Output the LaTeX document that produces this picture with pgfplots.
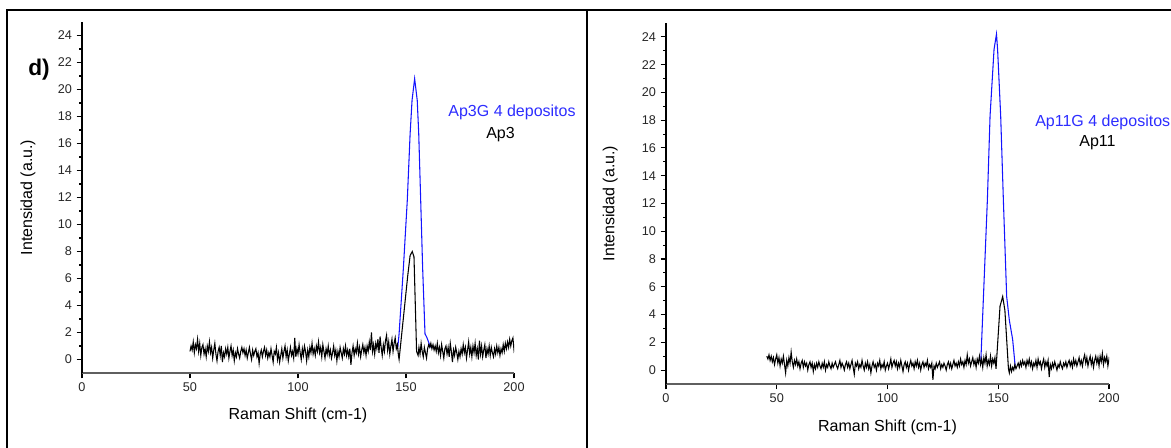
\documentclass[border=0pt]{standalone}
\usepackage{pgfplots}
\pgfplotsset{compat=1.18}
\usepackage{fontspec}
\setmainfont{Liberation Sans}
\definecolor{lblue}{RGB}{20,20,255}
\definecolor{tblue}{RGB}{45,45,255}
\definecolor{axgray}{RGB}{95,95,95}
\pgfplotsset{
 ramanax/.style={
  scale only axis, axis lines*=left,
  xmin=0, xmax=200, ymin=-1, ymax=25,
  xtick={0,50,100,150,200}, ytick={0,2,...,24}, minor y tick num=1,
  tick align=outside, major tick length=4pt, minor tick length=2.2pt,
  x axis line style={draw=axgray, line width=1.4pt},
  y axis line style={draw=black, line width=1.1pt},
  every tick/.style={draw=black, line width=0.8pt},
  tick label style={font=\fontsize{9.5}{10}\selectfont, text=black!85},
  /pgf/number format/assume math mode=true,
  label style={font=\fontsize{12}{14}\selectfont},
  xlabel={Raman Shift (cm-1)}, ylabel={Intensidad (a.u.)},
 }
}
\begin{document}
\begin{tikzpicture}[x=0.75pt,y=0.75pt]
\path[use as bounding box] (0,0) rectangle (1171,448);
\clip (0,0) rectangle (1171,448);
% ---------------- left panel ----------------
\begin{axis}[ramanax, at={(61.5pt,56.25pt)}, anchor=south west,
  width=324pt, height=263.25pt,
  xlabel style={at={(axis description cs:0.5,-0.122)}, anchor=center},
  ylabel style={at={(axis description cs:-0.125,0.5)}, anchor=center}]
\addplot[lblue, line width=0.8pt] coordinates {
(146.2,0.9)(146.8,1.9)(148.8,6.8)(150.6,11.8)(151.9,16.7)(152.8,19.2)(154.0,20.8)(155.2,19.2)(155.9,16.7)(156.8,11.8)(157.7,6.8)(158.8,1.9)(159.6,1.65)(161.4,0.9)
};
\addplot[black, line width=0.8pt] coordinates {
(50.0,0.6)(50.5,1.0)(51.0,0.7)(51.5,1.3)(52.0,0.5)(52.5,1.1)(53.0,0.8)(53.5,1.5)(54.0,0.6)(54.5,1.2)
(55.0,0.3)(55.5,0.9)(56.0,1.1)(56.5,0.4)(57.0,0.8)(57.5,0.2)(58.0,1.0)(58.5,0.6)(59.0,1.3)(59.5,0.5)
(60.0,0.9)(60.5,0.1)(61.0,0.7)(61.5,1.2)(62.0,0.4)(62.5,-0.1)(63.0,0.6)(63.5,0.9)(64.0,0.3)(64.5,1.0)
(65.0,-0.2)(65.5,0.5)(66.0,0.2)(66.5,0.8)(67.0,0.4)(67.5,0.9)(68.0,0.1)(68.5,0.6)(69.0,1.0)(69.5,0.3)
(70.0,0.7)(70.5,-0.1)(71.0,0.5)(71.5,0.2)(72.0,0.8)(72.5,0.4)(73.0,0.1)(73.5,0.6)(74.0,0.9)(74.5,0.5)
(75.0,0.8)(75.5,0.3)(76.0,0.7)(76.5,0.1)(77.0,0.5)(77.5,0.9)(78.0,0.4)(78.5,0.0)(79.0,0.7)(79.5,0.3)
(80.0,0.6)(80.5,0.8)(81.0,0.2)(81.5,0.5)(82.0,-0.3)(82.5,0.4)(83.0,0.7)(83.5,0.2)(84.0,0.6)(84.5,0.9)
(85.0,0.3)(85.5,0.7)(86.0,0.1)(86.5,0.5)(87.0,0.2)(87.5,0.8)(88.0,0.3)(88.5,-0.2)(89.0,0.6)(89.5,0.4)
(90.0,0.9)(90.5,0.0)(91.0,0.5)(91.5,-0.2)(92.0,0.3)(92.5,0.8)(93.0,0.1)(93.5,0.6)(94.0,1.0)(94.5,0.2)
(95.0,0.7)(95.5,-0.1)(96.0,0.4)(96.5,0.9)(97.0,0.3)(97.5,0.6)(98.0,0.1)(98.5,1.6)(99.0,0.2)(99.5,0.8)
(100.0,0.4)(100.5,1.1)(101.0,0.5)(101.5,0.0)(102.0,0.8)(102.5,0.3)(103.0,1.0)(103.5,0.6)(104.0,-0.1)(104.5,0.7)
(105.0,0.2)(105.5,0.9)(106.0,0.5)(106.5,1.2)(107.0,0.4)(107.5,0.8)(108.0,0.3)(108.5,1.0)(109.0,0.6)(109.5,1.3)
(110.0,0.5)(110.5,0.9)(111.0,0.2)(111.5,1.1)(112.0,0.6)(112.5,0.1)(113.0,0.8)(113.5,0.4)(114.0,1.0)(114.5,0.3)
(115.0,0.7)(115.5,0.1)(116.0,0.5)(116.5,1.0)(117.0,0.3)(117.5,0.7)(118.0,-0.1)(118.5,0.6)(119.0,0.2)(119.5,0.9)
(120.0,0.5)(120.5,0.1)(121.0,0.8)(121.5,0.4)(122.0,1.0)(122.5,0.3)(123.0,0.7)(123.5,0.2)(124.0,0.8)(124.5,-0.4)
(125.0,0.5)(125.5,1.0)(126.0,0.3)(126.5,0.8)(127.0,0.5)(127.5,1.2)(128.0,0.4)(128.5,0.9)(129.0,0.2)(129.5,0.7)
(130.0,1.1)(130.5,0.5)(131.0,0.9)(131.5,0.3)(132.0,1.0)(132.5,0.6)(133.0,1.3)(133.5,0.7)(134.0,2.0)(134.5,0.6)
(135.0,1.1)(135.5,0.4)(136.0,1.2)(136.5,0.8)(137.0,1.5)(137.5,0.5)(138.0,1.7)(138.5,0.9)(139.0,0.3)(139.5,1.1)
(140.0,0.6)(140.5,1.4)(141.0,1.8)(141.5,0.7)(142.0,1.3)(142.5,0.4)(143.0,1.0)(143.5,1.5)(144.0,0.6)(144.5,1.2)
(145.0,1.6)(145.5,0.8)(146.0,1.1)(146.5,0.3)
(146.8,0.0)(148.8,3.1)(150.8,6.2)(151.9,7.7)(152.9,8.0)(153.7,7.6)(154.9,0.6)(155.6,0.3)
(156.0,0.9)(156.5,0.4)(157.0,1.2)(157.5,0.6)(158.0,0.2)(158.5,0.9)(159.0,0.5)(159.5,0.1)
(160.0,0.8)(160.5,1.1)(161.0,0.9)(161.5,1.2)(162.0,0.8)(162.5,1.1)(163.0,0.7)(163.5,1.0)(164.0,0.6)(164.5,1.2)
(165.0,0.5)(165.5,0.9)(166.0,0.3)(166.5,1.1)(167.0,0.6)(167.5,0.1)(168.0,0.8)(168.5,1.0)(169.0,0.4)(169.5,0.9)
(170.0,0.2)(170.5,1.2)(171.0,0.6)(171.5,-0.2)(172.0,0.7)(172.5,0.3)(173.0,0.9)(173.5,0.5)(174.0,0.0)(174.5,0.6)
(175.0,0.2)(175.5,0.8)(176.0,0.4)(176.5,1.1)(177.0,0.5)(177.5,0.9)(178.0,0.1)(178.5,0.7)(179.0,1.3)(179.5,0.4)
(180.0,0.9)(180.5,0.2)(181.0,1.0)(181.5,0.5)(182.0,1.2)(182.5,0.3)(183.0,0.8)(183.5,0.0)(184.0,1.4)(184.5,0.4)
(185.0,1.0)(185.5,0.2)(186.0,0.7)(186.5,1.1)(187.0,0.1)(187.5,0.8)(188.0,0.4)(188.5,1.0)(189.0,0.3)(189.5,0.9)
(190.0,0.5)(190.5,0.2)(191.0,0.8)(191.5,0.4)(192.0,1.0)(192.5,0.5)(193.0,0.9)(193.5,0.3)(194.0,0.8)(194.5,0.5)
(195.0,1.1)(195.5,0.6)(196.0,1.2)(196.5,0.8)(197.0,1.3)(197.5,0.9)(198.0,1.5)(198.5,1.0)(199.0,1.4)(199.5,1.6)
(200.0,0.7)(200.5,1.0)(201.0,0.6)
};
\end{axis}
% ---------------- right panel ----------------
\begin{axis}[ramanax, at={(499.5pt,48pt)}, anchor=south west,
  width=332.25pt, height=270.75pt,
  xlabel style={at={(axis description cs:0.5,-0.12)}, anchor=center},
  ylabel style={at={(axis description cs:-0.126,0.5)}, anchor=center}]
\addplot[lblue, line width=0.8pt] coordinates {
(142.1,0.5)(145.1,12.3)(146.3,18.3)(148.1,23.1)(149.2,24.2)(149.7,23.1)(151.1,18.3)(152.3,12.3)(153.8,5.3)(155.0,3.6)(156.5,2.2)(157.6,0.35)
};
\addplot[black, line width=0.8pt] coordinates {
(45.5,1.0)(46.0,0.8)(46.5,1.1)(47.0,0.7)(47.5,1.0)(48.0,0.6)(48.5,0.9)(49.0,0.4)(49.5,0.8)
(50.0,1.1)(50.5,0.5)(51.0,0.9)(51.5,0.3)(52.0,0.8)(52.5,0.5)(53.0,1.0)(53.5,0.4)(54.0,-0.2)(54.5,0.7)
(55.0,0.3)(55.5,0.9)(56.0,0.5)(56.5,1.3)(57.0,0.6)(57.5,0.2)(58.0,0.7)(58.5,0.4)(59.0,0.8)(59.5,0.3)
(60.0,0.6)(60.5,0.1)(61.0,0.5)(61.5,0.7)(62.0,0.2)(62.5,0.6)(63.0,0.3)(63.5,0.5)(64.0,0.0)(64.5,0.4)
(65.0,0.6)(65.5,0.2)(66.0,0.5)(66.5,-0.1)(67.0,0.4)(67.5,0.1)(68.0,0.5)(68.5,0.2)(69.0,0.6)(69.5,0.3)
(70.0,0.1)(70.5,0.5)(71.0,0.2)(71.5,0.6)(72.0,0.0)(72.5,0.4)(73.0,0.2)(73.5,0.6)(74.0,0.3)(74.5,0.1)
(75.0,0.5)(75.5,0.2)(76.0,0.4)(76.5,0.6)(77.0,0.3)(77.5,0.1)(78.0,0.4)(78.5,0.7)(79.0,0.2)(79.5,0.5)
(80.0,0.3)(80.5,0.0)(81.0,0.4)(81.5,0.6)(82.0,0.2)(82.5,0.5)(83.0,0.1)(83.5,0.4)(84.0,0.7)(84.5,0.2)
(85.0,-0.3)(85.5,0.5)(86.0,0.3)(86.5,0.6)(87.0,0.1)(87.5,0.4)(88.0,0.2)(88.5,0.7)(89.0,0.3)(89.5,0.0)
(90.0,0.5)(90.5,0.2)(91.0,0.6)(91.5,0.1)(92.0,0.4)(92.5,-0.2)(93.0,0.3)(93.5,0.6)(94.0,0.2)(94.5,0.4)
(95.0,0.0)(95.5,0.5)(96.0,0.3)(96.5,0.7)(97.0,0.1)(97.5,0.4)(98.0,0.2)(98.5,0.6)(99.0,0.0)(99.5,0.3)
(100.0,0.5)(100.5,0.1)(101.0,0.4)(101.5,0.8)(102.0,0.2)(102.5,0.5)(103.0,0.7)(103.5,0.3)(104.0,0.6)(104.5,0.1)
(105.0,0.5)(105.5,0.2)(106.0,0.7)(106.5,0.3)(107.0,-0.1)(107.5,0.4)(108.0,0.6)(108.5,0.2)(109.0,0.5)(109.5,0.0)
(110.0,0.4)(110.5,0.7)(111.0,0.3)(111.5,0.5)(112.0,0.1)(112.5,0.6)(113.0,0.3)(113.5,0.7)(114.0,0.2)(114.5,0.5)
(115.0,0.0)(115.5,0.4)(116.0,0.6)(116.5,0.2)(117.0,0.5)(117.5,0.3)(118.0,0.7)(118.5,0.1)(119.0,0.4)(119.5,0.2)
(120.0,0.5)(120.5,-0.7)(121.0,0.3)(121.5,0.1)(122.0,0.5)(122.5,0.2)(123.0,0.4)(123.5,0.6)(124.0,0.1)(124.5,0.4)
(125.0,0.2)(125.5,0.5)(126.0,0.3)(126.5,0.0)(127.0,0.4)(127.5,0.6)(128.0,0.2)(128.5,0.5)(129.0,0.1)(129.5,0.4)
(130.0,0.7)(130.5,0.3)(131.0,0.5)(131.5,0.2)(132.0,0.6)(132.5,0.3)(133.0,0.8)(133.5,0.4)(134.0,0.6)(134.5,0.2)
(135.0,0.7)(135.5,0.4)(136.0,1.1)(136.5,0.5)(137.0,0.8)(137.5,0.3)(138.0,0.6)(138.5,0.9)(139.0,0.4)(139.5,0.7)
(140.0,0.2)(140.5,0.8)(141.0,0.5)(141.5,1.0)(142.0,0.4)(142.5,0.8)(143.0,0.2)(143.5,0.9)(144.0,0.5)(144.5,1.1)
(145.0,0.3)(145.5,0.7)(146.0,0.4)(146.5,1.0)(147.0,0.3)(147.5,0.8)(148.0,0.5)(148.5,0.9)(149.0,0.1)
(150.8,4.6)(152.0,5.3)(153.0,4.3)(154.6,0.1)(155.0,-0.2)
(155.5,0.3)(156.0,-0.1)(156.5,0.2)(157.0,0.0)(157.5,0.4)(158.0,0.1)(158.5,0.3)(159.0,0.5)(159.5,0.2)
(160.0,0.6)(160.5,0.3)(161.0,0.7)(161.5,0.4)(162.0,0.6)(162.5,0.2)(163.0,0.7)(163.5,0.4)(164.0,0.8)(164.5,0.3)
(165.0,0.6)(165.5,0.1)(166.0,0.5)(166.5,0.3)(167.0,0.7)(167.5,0.2)(168.0,0.8)(168.5,0.4)(169.0,0.6)(169.5,0.1)
(170.0,0.5)(170.5,0.8)(171.0,0.2)(171.5,0.6)(172.0,0.3)(172.5,0.7)(173.0,-0.5)(173.5,0.4)(174.0,0.1)(174.5,0.5)
(175.0,0.2)(175.5,0.6)(176.0,0.3)(176.5,0.0)(177.0,0.4)(177.5,0.2)(178.0,0.6)(178.5,0.3)(179.0,0.1)(179.5,0.5)
(180.0,0.3)(180.5,0.6)(181.0,0.2)(181.5,0.5)(182.0,0.7)(182.5,0.3)(183.0,0.6)(183.5,0.2)(184.0,0.8)(184.5,0.4)
(185.0,0.7)(185.5,0.3)(186.0,0.6)(186.5,0.9)(187.0,0.4)(187.5,0.7)(188.0,0.3)(188.5,0.8)(189.0,1.1)(189.5,0.5)
(190.0,0.9)(190.5,0.3)(191.0,0.7)(191.5,1.0)(192.0,0.4)(192.5,0.8)(193.0,0.2)(193.5,0.7)(194.0,1.0)(194.5,0.5)
(195.0,0.9)(195.5,0.3)(196.0,1.0)(196.5,0.6)(197.0,1.2)(197.5,0.4)(198.0,0.9)(198.5,0.6)(199.0,1.0)(199.5,0.3)
(200.0,0.8)(200.5,0.5)(201.0,0.7)
};
\end{axis}
% ---------------- frames and texts ----------------
\draw[line width=1.65pt] (7,-10) -- (7,438) -- (1190,438);
\draw[line width=1.65pt] (587,438) -- (587,-10);
\node[font=\bfseries\fontsize{17}{18}\selectfont] at (39,378) {d)};
\node[font=\fontsize{12}{14}\selectfont, text=tblue] at (512,336) {Ap3G 4 depositos};
\node[font=\fontsize{12}{14}\selectfont] at (500.5,313) {Ap3};
\node[font=\fontsize{12}{14}\selectfont, text=tblue, anchor=west, inner sep=0pt] at (1035,326) {Ap11G 4 depositos};
\node[font=\fontsize{12}{14}\selectfont] at (1097.5,305) {Ap11};
\end{tikzpicture}
\end{document}
